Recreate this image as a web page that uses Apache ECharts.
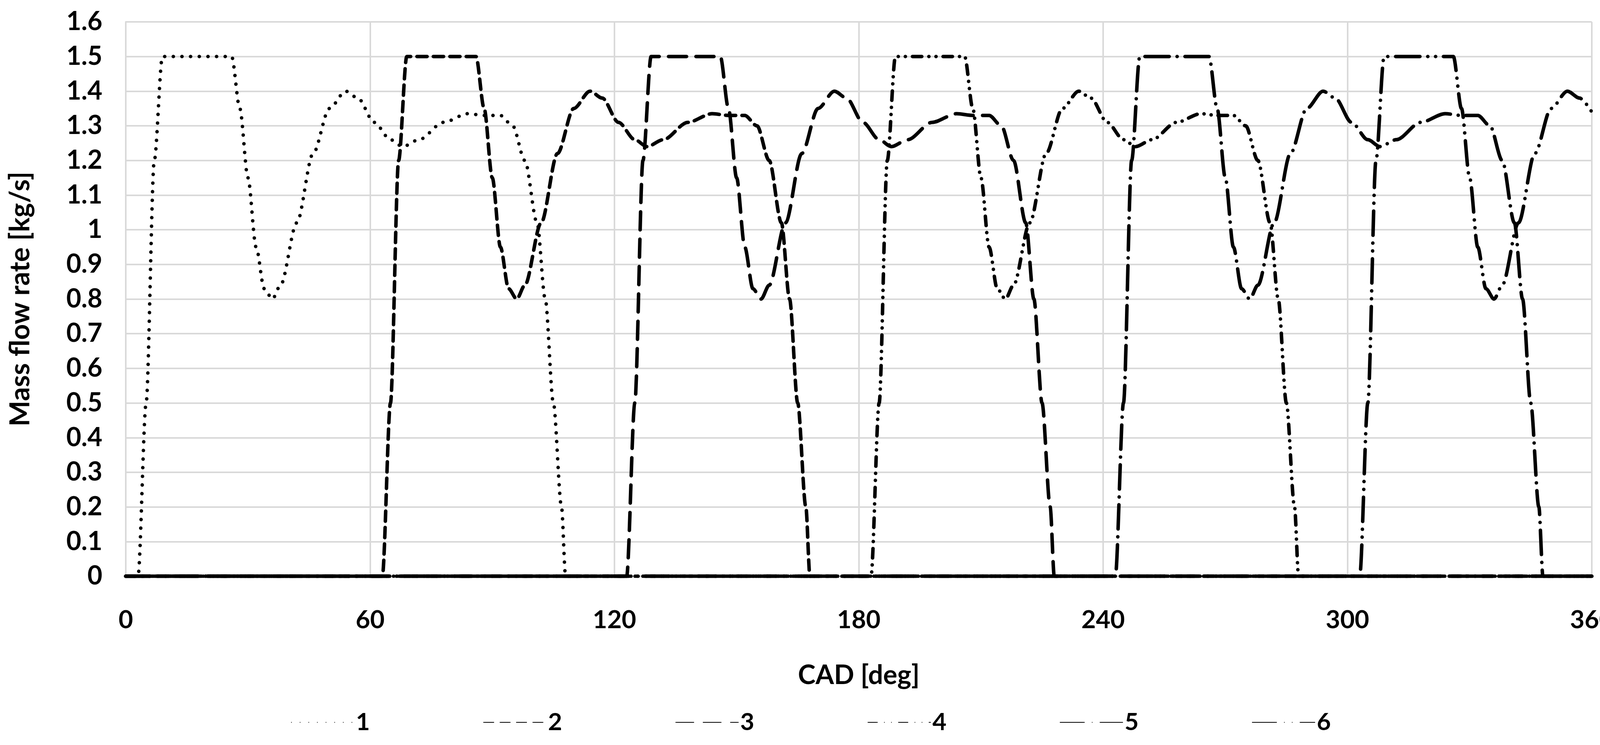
<!DOCTYPE html>
<html>
<head>
<meta charset="utf-8">
<script src="https://cdn.jsdelivr.net/npm/echarts@6/dist/echarts.min.js"></script>
<style>
  html, body { margin: 0; padding: 0; background: #fff; }
  #main { width: 4152px; height: 1907px; }
</style>
</head>
<body>
<div id="main"></div>
<script>
// mass flow rate per cylinder vs crank angle
const xTicks = [0, 60, 120, 180, 240, 300, 360]
const names = ['1', '2', '3', '4', '5', '6']

const s1 = [[0,0],[3,0],[5,0.5],[7,1.2],[9,1.5],[26,1.5],[28,1.35],[30,1.15],[32,0.95],[34,0.83],[36,0.8],[38,0.84],[42,1.02],[46,1.22],[50,1.35],[54,1.4],[57,1.38],[61,1.31],[65,1.26],[68,1.24],[72,1.26],[78,1.31],[84,1.335],[88,1.33],[92,1.33],[95,1.3],[98,1.2],[101,1.02],[103,0.8],[105,0.5],[107,0.2],[108,0],[360,0]]
const s2 = [[0,0],[63,0],[65,0.5],[67,1.2],[69,1.5],[86,1.5],[88,1.35],[90,1.15],[92,0.95],[94,0.83],[96,0.8],[98,0.84],[102,1.02],[106,1.22],[110,1.35],[114,1.4],[117,1.38],[121,1.31],[125,1.26],[128,1.24],[132,1.26],[138,1.31],[144,1.335],[148,1.33],[152,1.33],[155,1.3],[158,1.2],[161,1.02],[163,0.8],[165,0.5],[167,0.2],[168,0],[360,0]]
const s3 = [[0,0],[123,0],[125,0.5],[127,1.2],[129,1.5],[146,1.5],[148,1.35],[150,1.15],[152,0.95],[154,0.83],[156,0.8],[158,0.84],[162,1.02],[166,1.22],[170,1.35],[174,1.4],[177,1.38],[181,1.31],[185,1.26],[188,1.24],[192,1.26],[198,1.31],[204,1.335],[208,1.33],[212,1.33],[215,1.3],[218,1.2],[221,1.02],[223,0.8],[225,0.5],[227,0.2],[228,0],[360,0]]
const s4 = [[0,0],[183,0],[185,0.5],[187,1.2],[189,1.5],[206,1.5],[208,1.35],[210,1.15],[212,0.95],[214,0.83],[216,0.8],[218,0.84],[222,1.02],[226,1.22],[230,1.35],[234,1.4],[237,1.38],[241,1.31],[245,1.26],[248,1.24],[252,1.26],[258,1.31],[264,1.335],[268,1.33],[272,1.33],[275,1.3],[278,1.2],[281,1.02],[283,0.8],[285,0.5],[287,0.2],[288,0],[360,0]]
const s5 = [[0,0],[243,0],[245,0.5],[247,1.2],[249,1.5],[266,1.5],[268,1.35],[270,1.15],[272,0.95],[274,0.83],[276,0.8],[278,0.84],[282,1.02],[286,1.22],[290,1.35],[294,1.4],[297,1.38],[301,1.31],[305,1.26],[308,1.24],[312,1.26],[318,1.31],[324,1.335],[328,1.33],[332,1.33],[335,1.3],[338,1.2],[341,1.02],[343,0.8],[345,0.5],[347,0.2],[348,0],[360,0]]
const s6 = [[0,0],[303,0],[305,0.5],[307,1.2],[309,1.5],[326,1.5],[328,1.35],[330,1.15],[332,0.95],[334,0.83],[336,0.8],[338,0.84],[342,1.02],[346,1.22],[350,1.35],[354,1.4],[357,1.38],[360,1.34]]

const dashes = [
  [0.1, 22],
  [26, 16],
  [46, 24],
  [24, 18, 0.1, 18, 0.1, 18],
  [62, 20, 0.1, 20],
  [62, 20, 0.1, 20, 0.1, 20]
]

const font = 'Lato'
let myChart = echarts.init(document.getElementById('main'))
let options = {
  animation: false,
  grid: { left: 322, right: 77, top: 56, bottom: 432 },
  legend: {
    bottom: 22,
    left: 'center',
    itemWidth: 160,
    itemHeight: 30,
    itemGap: 290,
    itemStyle: { opacity: 0 },
    textStyle: { fontFamily: font, fontWeight: 'bold', fontSize: 62, color: '#000' },
    data: names
  },
  xAxis: {
    type: 'value',
    min: 0,
    max: 360,
    interval: 60,
    name: 'CAD [deg]',
    nameLocation: 'middle',
    nameGap: 220,
    nameTextStyle: { fontFamily: font, fontWeight: 'bold', fontSize: 68, color: '#000' },
    axisLine: { show: false },
    axisTick: { show: false },
    axisLabel: {
      margin: 80, fontFamily: font, fontWeight: 'bold', fontSize: 64, color: '#000',
      formatter: v => xTicks.includes(v) ? String(v) : ''
    },
    splitLine: { show: true, lineStyle: { color: '#d9d9d9', width: 4 } }
  },
  yAxis: {
    type: 'value',
    min: 0,
    max: 1.6,
    interval: 0.1,
    name: 'Mass flow rate [kg/s]',
    nameLocation: 'middle',
    nameGap: 235,
    nameTextStyle: { fontFamily: font, fontWeight: 'bold', fontSize: 70, color: '#000' },
    axisLine: { show: true, lineStyle: { color: '#d9d9d9', width: 4 } },
    axisTick: { show: false },
    axisLabel: {
      margin: 60, fontFamily: font, fontWeight: 'bold', fontSize: 66, color: '#000',
      formatter: v => String(Math.round(v * 10) / 10)
    },
    splitLine: { show: true, lineStyle: { color: '#d9d9d9', width: 4 } }
  },
  series: [s1, s2, s3, s4, s5, s6].map((d, i) => ({
    name: names[i],
    type: 'line',
    data: d,
    symbol: 'none',
    smooth: 0.3,
    smoothMonotone: 'x',
    itemStyle: { color: '#000' },
    lineStyle: { color: '#000', width: 9, type: dashes[i], cap: 'round' }
  }))
}
myChart.setOption(options)
</script>
</body>
</html>
